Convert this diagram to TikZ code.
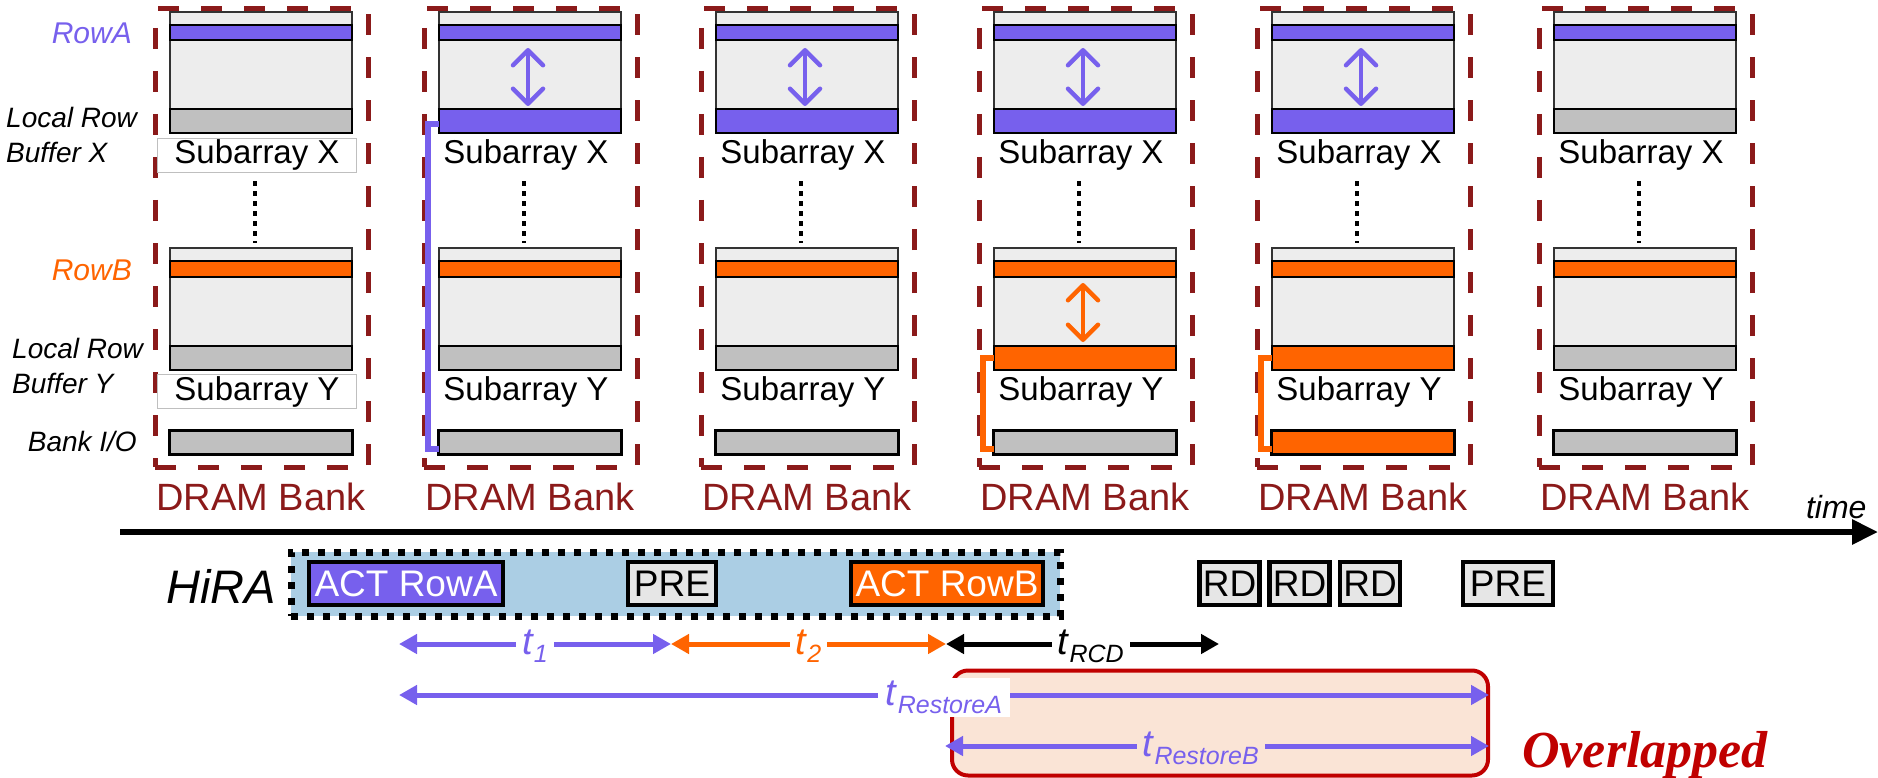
\documentclass[tikz,border=0pt]{standalone}
\usepackage{fontspec}
\setmainfont{Liberation Sans}
\newfontfamily\ovfont{Liberation Serif}
\usetikzlibrary{arrows.meta,positioning,calc}
\definecolor{rowa}{RGB}{119,96,237}
\definecolor{rowb}{RGB}{255,100,0}
\definecolor{cellgray}{RGB}{237,237,237}
\definecolor{bufgray}{RGB}{192,192,192}
\definecolor{bankred}{RGB}{139,26,26}
\definecolor{hirablue}{RGB}{171,206,228}
\definecolor{pregray}{RGB}{230,230,230}
\definecolor{ovfill}{RGB}{250,228,214}
\definecolor{ovred}{RGB}{192,0,0}
\newcommand{\tsub}[1]{\fontsize{38}{40}\selectfont\textit{t}\raisebox{-8pt}{\fontsize{25}{28}\selectfont\textit{#1}}}
\tikzset{
  bankbox/.style={rectangle, draw=bankred, line width=5pt, dash pattern=on 21pt off 22pt,
    minimum width=213pt, minimum height=458pt, anchor=north west, inner sep=0pt},
  cell/.style={rectangle, draw=black!80, fill=cellgray, line width=1.2pt,
    minimum width=182pt, anchor=north west, inner sep=0pt, outer sep=0pt},
  strip/.style={cell, draw=black},
  iobox/.style={rectangle, draw=black, line width=3.5pt, minimum width=183pt,
    minimum height=24pt, anchor=north west, inner sep=0pt, outer sep=0pt},
  sublbl/.style={rectangle, line width=0.8pt, minimum width=199pt, text height=24pt,
    text depth=7pt, inner ysep=1.5pt, inner xsep=0pt, font=\fontsize{33}{36}\selectfont},
  banklbl/.style={anchor=base, text=bankred, font=\fontsize{38}{40}\selectfont},
  sidelbl/.style={font=\fontsize{28}{30}\selectfont\itshape, inner sep=0pt},
  rowlbl/.style={font=\fontsize{30}{32}\selectfont\itshape, inner sep=0pt, anchor=base east},
  dotline/.style={line width=4.5pt, dash pattern=on 5pt off 5pt},
  rowswap/.style={{Straight Barb[length=15pt,width=30pt,round]}-{Straight Barb[length=15pt,width=30pt,round]},
    line width=4.5pt, line cap=round},
  link/.style={line width=6pt},
  timeline/.style={-{Triangle[length=26pt,width=24pt]}, line width=6pt},
  hirabox/.style={rectangle, draw=black, fill=hirablue, line width=7pt,
    dash pattern=on 7pt off 9pt, minimum width=769pt, minimum height=64pt},
  cmdbox/.style={rectangle, draw=black, line width=4.5pt, minimum height=43pt,
    inner xsep=2pt, inner ysep=0pt, font=\fontsize{37}{40}\selectfont},
  tarr/.style={{Triangle[length=18pt,width=19pt]}-{Triangle[length=18pt,width=19pt]}, line width=5pt},
  tlbl/.style={fill=white, inner xsep=6pt, inner ysep=1pt, yshift=-2pt},
  ovbox/.style={rectangle, rounded corners=16pt, draw=ovred, fill=ovfill, line width=4pt,
    minimum width=536pt, minimum height=105pt},
  ovtext/.style={anchor=base, text=ovred, font=\ovfont\fontsize{52}{54}\selectfont\bfseries\itshape}
}

\begin{document}
\begin{tikzpicture}[x=1pt, y=-1pt]
\useasboundingbox (0,0) rectangle (1878,778);

%% ── LEFT LABELS ─────────────────────────────────────────────────────
\node[rowlbl, text=rowa] (lblA) at (132,44) {RowA};
\node[sidelbl, anchor=base west] (lbx1) at (6,128) {Local Row};
\node[sidelbl, anchor=base west] (lbx2) at (6,163) {Buffer X};
\node[rowlbl, text=rowb] (lblB) at (132,280) {RowB};
\node[sidelbl, anchor=base west] (lby1) at (12,358) {Local Row};
\node[sidelbl, anchor=base west] (lby2) at (12,393) {Buffer Y};
\node[sidelbl, anchor=base east] (lbio) at (137,451) {Bank I/O};

%% ── BANKS ───────────────────────────────────────────────────────────
\foreach \i/\x/\bx/\by/\io/\lb in {1/150/bufgray/bufgray/bufgray/black!25,
    2/419/rowa/bufgray/bufgray/none, 3/696/rowa/bufgray/bufgray/none,
    4/974/rowa/rowb/bufgray/none, 5/1252/rowa/rowb/rowb/none,
    6/1534/bufgray/bufgray/bufgray/none}{
  \node[bankbox] (bank\i) at (\x+2.5,6.5) {};
  % subarray X
  \node[cell, minimum height=121pt] (sx\i) at (\x+20,12) {};
  \node[strip, fill=rowa, minimum height=15pt] (ra\i) at (\x+20,25) {};
  \node[strip, fill=\bx, minimum height=24pt] (bx\i) at (\x+20,109) {};
  \node[sublbl, draw=\lb] (lx\i) at (\x+107,155) {Subarray X};
  % subarray Y
  \node[cell, minimum height=122pt] (sy\i) at (\x+20,248) {};
  \node[strip, fill=rowb, minimum height=16pt] (rb\i) at (\x+20,261) {};
  \node[strip, fill=\by, minimum height=24pt] (by\i) at (\x+20,346) {};
  \node[sublbl, draw=\lb] (ly\i) at (\x+107,391.5) {Subarray Y};
  \draw[dotline] ($(lx\i.south)+(-2,9)$) -- ($(lx\i.south |- sy\i.north)+(-2,-5)$);
  % bank I/O
  \node[iobox, fill=\io] (io\i) at (\x+19.5,430.5) {};
  \node[banklbl] (bl\i) at (\x+111,510) {DRAM Bank};
}

%% row copy arrows
\foreach \i in {2,...,5}
  \draw[rowswap, rowa] ($(ra\i.south)+(-2,8)$) -- ($(bx\i.north)+(-2,-3)$);
\draw[rowswap, rowb] ($(rb4.south)+(-2,6)$) -- ($(by4.north)+(-2,-4)$);

%% buffer to bank I/O
\draw[link, rowa] ($(bx2.west)+(0,3)$) -- ++(-11,0) |- ($(io2.west)+(0,6)$);
\draw[link, rowb] (by4.west) -- ++(-11,0) |- ($(io4.west)+(0,6)$);
\draw[link, rowb] (by5.west) -- ++(-11,0) |- ($(io5.west)+(0,6)$);

%% ── TIME AXIS ───────────────────────────────────────────────────────
\coordinate (ax0) at (120,532);
\coordinate (ax1) at (1878,532);
\draw[timeline] (ax0) -- (ax1);
\node[font=\fontsize{32}{34}\selectfont\itshape, anchor=base east] (tlab) at (1870,518) {time};

%% ── COMMANDS ────────────────────────────────────────────────────────
\node[font=\fontsize{47}{50}\selectfont\itshape, anchor=base] (hl) at (221,603) {HiRA};
\node[hirabox] (hira) at (675.5,584) {};
\node[cmdbox, fill=rowa, text=white, minimum width=194pt] (actA) at (406,583.5) {ACT RowA};
\node[cmdbox, fill=pregray, minimum width=88pt] (pre1) at (672,583.5) {PRE};
\node[cmdbox, fill=rowb, text=white, minimum width=192pt] (actB) at (947,583.5) {ACT RowB};
\node[cmdbox, fill=pregray, minimum width=60pt] (rd1) at (1229.5,583.5) {RD};
\node[cmdbox, fill=pregray, minimum width=60pt] (rd2) at (1299.5,583.5) {RD};
\node[cmdbox, fill=pregray, minimum width=60pt] (rd3) at (1370,583.5) {RD};
\node[cmdbox, fill=pregray, minimum width=90pt] (pre2) at (1508,583.5) {PRE};

%% ── TIMINGS ─────────────────────────────────────────────────────────
\coordinate (s0) at (399,644);
\coordinate (s1) at (671,644);
\coordinate (s2) at (946,644);
\coordinate (s3) at (1219,644);
\coordinate (ra0) at (399,695);
\coordinate (ra1) at (1489,695);
\coordinate (rb0) at (945,746);
\coordinate (rb1) at (1489,746);

\draw[tarr, rowa] (s0) -- node[tlbl, text=rowa] {\tsub{1}} (s1);
\draw[tarr, rowb] (s1) -- node[tlbl, text=rowb] {\tsub{2}} (s2);
\draw[tarr, black] (s2) -- node[tlbl, pos=0.53] {\tsub{RCD}} (s3);

\node[ovbox] (ov) at (1220,723) {};
\draw[tarr, rowa] (ra0) -- node[tlbl, text=rowa, minimum width=132pt, minimum height=39pt] {\tsub{RestoreA}} (ra1);
\draw[tarr, rowa] (rb0) -- node[tlbl, fill=ovfill, text=rowa, pos=0.47] {\tsub{RestoreB}} (rb1);
\node[ovtext] (ovl) at (1645,767) {Overlapped};

\end{tikzpicture}
\end{document}
